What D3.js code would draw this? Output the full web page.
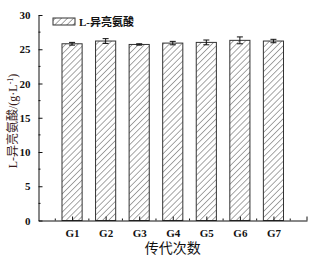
<!DOCTYPE html>
<html>
<head>
<meta charset="utf-8">
<script src="https://cdn.jsdelivr.net/npm/d3@7"></script>
<style>
  body { margin: 0; background: #fff; }
  svg text { font-family: "Liberation Serif", "Noto Sans CJK SC", serif; }
</style>
</head>
<body>
<script>
const groups = ["G1", "G2", "G3", "G4", "G5", "G6", "G7"];
const values = [25.8, 26.2, 25.7, 25.9, 26.0, 26.3, 26.2];
const errors = [0.2, 0.35, 0.1, 0.25, 0.35, 0.5, 0.25];
const yTicks = [0, 5, 10, 15, 20, 25, 30];

const w = 322, h = 261;
const svg = d3.select("body").append("svg")
  .attr("width", w)
  .attr("height", h);

// hatch pattern
const defs = svg.append("defs");
const pat = defs.append("pattern")
  .attr("id", "hatch")
  .attr("patternUnits", "userSpaceOnUse")
  .attr("width", 4.3)
  .attr("height", 4.3)
  .attr("patternTransform", "rotate(45)");
pat.append("rect").attr("width", 4.3).attr("height", 4.3).attr("fill", "#fff");
pat.append("line")
  .attr("x1", 0).attr("y1", 0).attr("x2", 0).attr("y2", 4.3)
  .attr("stroke", "#3a3a3a").attr("stroke-width", 0.9);

const x = d3.scaleLinear().domain([0, 8]).range([38.5, 307]);
const y = d3.scaleLinear().domain([0, 30]).range([220.5, 15]);
const barW = 0.6;

// bars
svg.selectAll("rect.bar")
  .data(values)
  .enter()
  .append("rect")
  .attr("class", "bar")
  .attr("x", (d, i) => x(i + 1 - barW / 2))
  .attr("y", d => y(d))
  .attr("width", x(barW) - x(0))
  .attr("height", d => y(0) - y(d))
  .attr("fill", "url(#hatch)")
  .attr("stroke", "#333")
  .attr("stroke-width", 1);

// error bars
const eb = svg.append("g").attr("stroke", "#111").attr("stroke-width", 1);
values.forEach((v, i) => {
  const cx = x(i + 1);
  eb.append("line").attr("x1", cx).attr("x2", cx).attr("y1", y(v - errors[i])).attr("y2", y(v + errors[i]));
  eb.append("line").attr("x1", cx - 3).attr("x2", cx + 3).attr("y1", y(v + errors[i])).attr("y2", y(v + errors[i]));
  eb.append("line").attr("x1", cx - 3).attr("x2", cx + 3).attr("y1", y(v - errors[i])).attr("y2", y(v - errors[i]));
});

// y axis
const yAxis = d3.axisLeft(y).tickValues(yTicks).tickSizeInner(-4).tickSizeOuter(0).tickPadding(8);
const gy = svg.append("g")
  .attr("transform", "translate(" + x(0) + ",0)")
  .call(yAxis);
gy.selectAll("text").attr("font-size", 11).attr("font-weight", "bold").attr("fill", "#111");
gy.select(".domain").attr("stroke", "#111");
gy.selectAll(".tick line").attr("stroke", "#111");
gy.selectAll("line.minor")
  .data(d3.range(2.5, 30, 5))
  .enter()
  .append("line")
  .attr("class", "minor")
  .attr("x1", 0).attr("x2", 2)
  .attr("y1", d => y(d)).attr("y2", d => y(d))
  .attr("stroke", "#111");

// x axis
const xAxis = d3.axisBottom(x)
  .tickValues(d3.range(1, 8))
  .tickFormat(d => groups[d - 1])
  .tickSizeInner(-4).tickSizeOuter(0).tickPadding(9);
const gx = svg.append("g")
  .attr("transform", "translate(0," + y(0) + ")")
  .call(xAxis);
gx.selectAll("text").attr("font-size", 11).attr("font-weight", "bold").attr("fill", "#111");
gx.select(".domain").attr("stroke", "#111");
gx.selectAll(".tick line").attr("stroke", "#111");
gx.append("line")
  .attr("x1", x(8)).attr("x2", x(8)).attr("y1", 0).attr("y2", -4)
  .attr("stroke", "#111");
gx.selectAll("line.minor")
  .data(d3.range(0.5, 8, 1))
  .enter()
  .append("line")
  .attr("class", "minor")
  .attr("x1", d => x(d)).attr("x2", d => x(d))
  .attr("y1", 0).attr("y2", -2)
  .attr("stroke", "#111");

// axis titles
svg.append("text")
  .attr("x", x(4))
  .attr("y", 253)
  .attr("text-anchor", "middle")
  .attr("font-size", 14)
  .attr("fill", "#111")
  .text("传代次数");

svg.append("text")
  .attr("transform", "translate(17,121) rotate(-90)")
  .attr("text-anchor", "middle")
  .attr("font-size", 12)
  .attr("fill", "#3a1c1c")
  .html('L-异亮氨酸/(g·L<tspan dy="-4" font-size="8">-1</tspan><tspan dy="4">)</tspan>');

// legend
svg.append("rect")
  .attr("x", 53).attr("y", 18)
  .attr("width", 22).attr("height", 7)
  .attr("fill", "url(#hatch)")
  .attr("stroke", "#333");
svg.append("text")
  .attr("x", 79).attr("y", 25.5)
  .attr("font-size", 11)
  .attr("font-weight", "bold")
  .attr("fill", "#111")
  .text("L-异亮氨酸");
</script>
</body>
</html>
